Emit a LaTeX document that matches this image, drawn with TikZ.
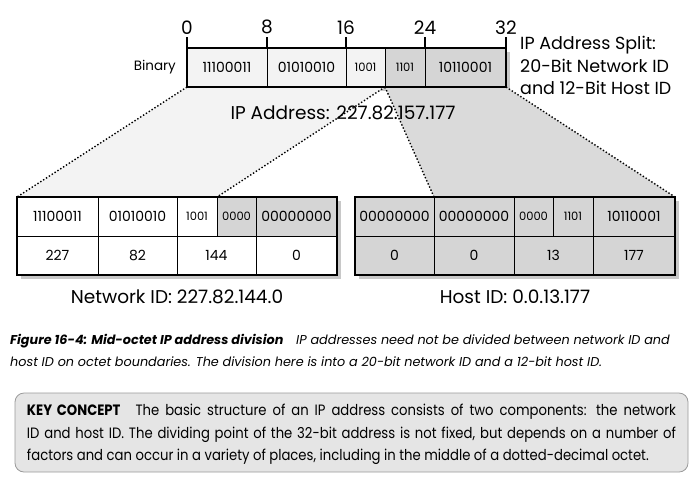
\documentclass[tikz,border=0pt]{standalone}
\usepackage{fontspec}
\setmainfont{Poppins}
\newfontfamily\keyfont{Poppins}[FakeStretch=0.88]
\usetikzlibrary{positioning}
\usetikzlibrary{backgrounds}

\definecolor{lightcell}{HTML}{F3F3F3}
\definecolor{darkcell}{HTML}{D5D5D5}
\definecolor{fangray}{HTML}{DADADA}
\definecolor{shadowgray}{HTML}{C8C8C8}
\definecolor{keyfill}{HTML}{E5E5E5}
\definecolor{keyline}{HTML}{9A9A9A}

\tikzset{
	cell/.style={draw=black, fill=white, line width=0.8pt, minimum height=39pt, inner sep=0pt, outer sep=0pt, font=\fontsize{14}{14}\selectfont},
	smallcell/.style={cell, font=\fontsize{11.5}{11.5}\selectfont},
	outerbox/.style={draw=black, line width=2pt},
	fanline/.style={line width=1.4pt, dotted},
	tick/.style={line width=1.5pt},
	biglabel/.style={font=\fontsize{18.5}{22.5}\selectfont, inner sep=0pt},
}

\begin{document}
\begin{tikzpicture}[x=1pt, y=-1pt]
	\useasboundingbox (0,0) rectangle (698,480);

	% ---------------------
	% Full address
	\node[cell, fill=lightcell, minimum width=80pt, anchor=north west] (bt1) at (187,48) {11100011};
	\node[cell, fill=lightcell, minimum width=79pt, right=0pt of bt1] (bt2) {01010010};
	\node[smallcell, fill=lightcell, minimum width=39pt, right=0pt of bt2] (bt3) {1001};
	\node[smallcell, fill=darkcell, minimum width=40pt, right=0pt of bt3] (bt4) {1101};
	\node[cell, fill=darkcell, minimum width=81pt, right=0pt of bt4] (bt5) {10110001};
	\draw[outerbox] (bt1.north west) rectangle (bt5.south east);

	% ---------------------
	% Network ID
	\node[cell, minimum width=81pt, anchor=north west] (nt1) at (17,197) {11100011};
	\node[cell, minimum width=79pt, right=0pt of nt1] (nt2) {01010010};
	\node[smallcell, minimum width=40pt, right=0pt of nt2] (nt3) {1001};
	\node[smallcell, fill=darkcell, minimum width=39pt, right=0pt of nt3] (nt4) {0000};
	\node[cell, fill=darkcell, minimum width=81pt, right=0pt of nt4] (nt5) {00000000};
	\node[cell, minimum width=81pt, below=0pt of nt1] (nd1) {227};
	\node[cell, minimum width=79pt, right=0pt of nd1] (nd2) {82};
	\node[cell, minimum width=79pt, right=0pt of nd2] (nd3) {144};
	\node[cell, minimum width=81pt, right=0pt of nd3] (nd4) {0};
	\draw[outerbox] (nt1.north west) rectangle (nd4.south east);

	% ---------------------
	% Host ID
	\node[cell, fill=darkcell, minimum width=79pt, anchor=north west] (ht1) at (355,197) {00000000};
	\node[cell, fill=darkcell, minimum width=80pt, right=0pt of ht1] (ht2) {00000000};
	\node[smallcell, fill=darkcell, minimum width=39pt, right=0pt of ht2] (ht3) {0000};
	\node[smallcell, fill=darkcell, minimum width=40pt, right=0pt of ht3] (ht4) {1101};
	\node[cell, fill=darkcell, minimum width=82pt, right=0pt of ht4] (ht5) {10110001};
	\node[cell, fill=darkcell, minimum width=79pt, below=0pt of ht1] (hd1) {0};
	\node[cell, fill=darkcell, minimum width=80pt, right=0pt of hd1] (hd2) {0};
	\node[cell, fill=darkcell, minimum width=79pt, right=0pt of hd2] (hd3) {13};
	\node[cell, fill=darkcell, minimum width=82pt, right=0pt of hd3] (hd4) {177};
	\draw[outerbox] (ht1.north west) rectangle (hd4.south east);

	% ---------------------
	% Shadows & fans
	\begin{scope}[on background layer]
		\fill[shadowgray] ([shift={(4,4)}]bt1.north west) rectangle ([shift={(4,4)}]bt5.south east);
		\fill[shadowgray] ([shift={(4,4)}]nt1.north west) rectangle ([shift={(4,4)}]nd4.south east);
		\fill[shadowgray] ([shift={(4,4)}]ht1.north west) rectangle ([shift={(4,4)}]hd4.south east);
		\fill[lightcell] (bt1.south west) -- (bt4.south west) -- (nt4.north west) -- (nt1.north west) -- cycle;
		\fill[fangray] (bt4.south west) -- (bt5.south east) -- (ht5.north east) -- (ht1.north east) -- cycle;
	\end{scope}

	\node[biglabel] (addr) at (343,113) {IP Address: 227.82.157.177};

	\draw[fanline] (bt1.south west) -- (nt1.north west);
	\draw[fanline] (bt4.south west) -- (nt4.north west);
	\draw[fanline] (bt4.south west) -- (ht1.north east);
	\draw[fanline] (bt5.south east) -- (ht5.north east);

	% ---------------------
	% Bit positions
	\foreach \c/\n in {bt1/0, bt2/8, bt3/16, bt5/24}
		\draw[tick] (\c.north west) -- ++(0,-11) node[biglabel, anchor=south, yshift=2pt] {\n};
	\draw[tick] (bt5.north east) -- ++(0,-11) node[biglabel, anchor=south, yshift=2pt] {32};

	% ---------------------
	% Labels
	\node[font=\fontsize{13.5}{13.5}\selectfont, inner sep=0pt, left=11pt of bt1] (binary) {Binary};
	\node[font=\fontsize{17.5}{22.5}\selectfont, inner sep=0pt, align=left, anchor=north west] (split) at (520,36) {IP Address Split:\\20-Bit Network ID\\and 12-Bit Host ID};
	\node[biglabel] (netlabel) at (177,297) {Network ID: 227.82.144.0};
	\node[biglabel] (hostlabel) at (515,297) {Host ID: 0.0.13.177};

	% ---------------------
	% Caption
	\node[font=\fontsize{12.8}{22}\selectfont\itshape, align=left, anchor=north west, inner sep=0pt] (caption) at (10,334)
		{\textbf{Figure 16-4: Mid-octet IP address division}\quad IP addresses need not be divided between network ID and\\
		host ID on octet boundaries. The division here is into a 20-bit network ID and a 12-bit host ID.};

	% ---------------------
	% Key concept
	\node[draw=keyline, fill=keyfill, rounded corners=9pt, line width=0.8pt, minimum width=673pt, minimum height=79pt] (keybox) at (351.5,432.5) {};
	\node[font=\keyfont\fontsize{15}{22.5}\selectfont, text width=649pt, align=justify, inner sep=0pt] (keytext) at ([yshift=-2pt]keybox.center)
		{\textbf{KEY CONCEPT}\quad The basic structure of an IP address consists of two components: the network\linebreak
		ID and host ID. The dividing point of the 32-bit address is not fixed, but depends on a number of\linebreak
		factors and can occur in a variety of places, including in the middle of a dotted-decimal octet.};
\end{tikzpicture}
\end{document}
